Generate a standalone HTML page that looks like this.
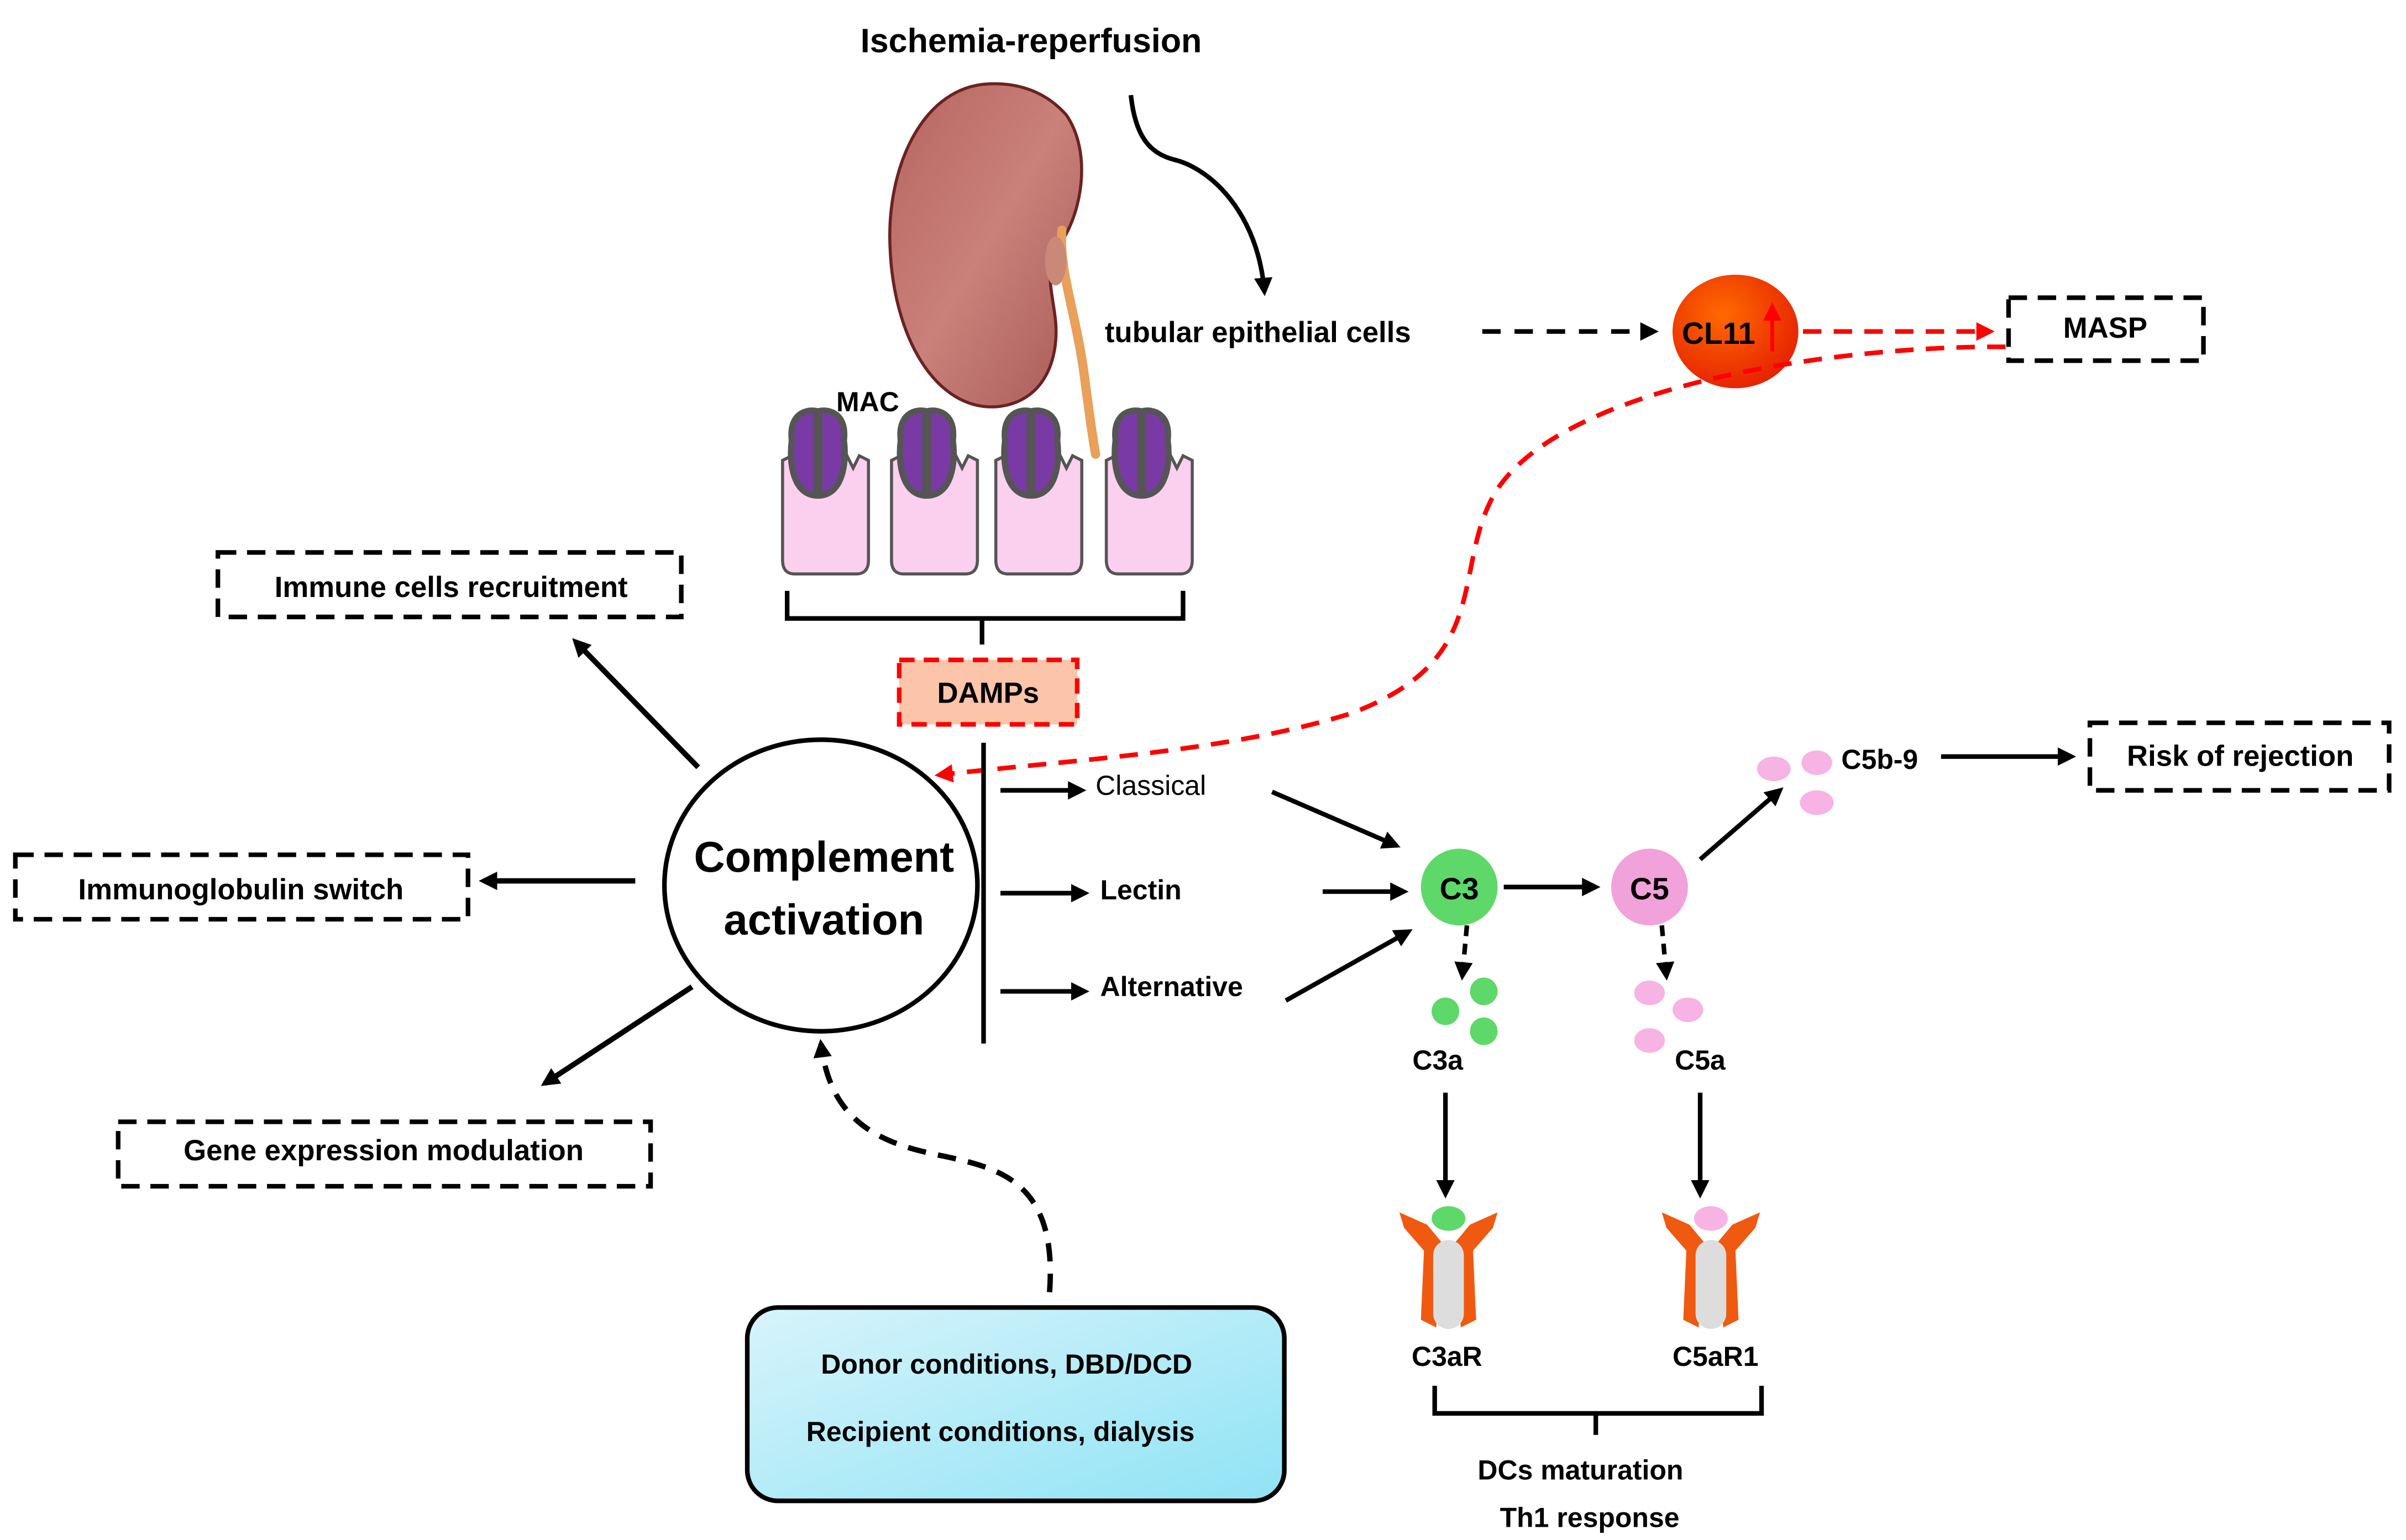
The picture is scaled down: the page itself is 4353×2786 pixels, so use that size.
<!DOCTYPE html>
<html><head><meta charset="utf-8"><style>
html,body{margin:0;padding:0;background:#fff;}
svg{display:block;}
text{font-family:"Liberation Sans",sans-serif;font-weight:bold;fill:#000;}
</style></head><body>
<svg width="4353" height="2786" viewBox="0 0 1568 1003.5" preserveAspectRatio="none" xmlns="http://www.w3.org/2000/svg">
<defs>
<marker id="ahb" markerWidth="12" markerHeight="12" refX="9" refY="6" orient="auto" markerUnits="userSpaceOnUse" viewBox="0 0 12 12"><path d="M0,0 L12,6 L0,12 Z" fill="#000"/></marker>
<marker id="ahr" markerWidth="12" markerHeight="12" refX="9" refY="6" orient="auto" markerUnits="userSpaceOnUse" viewBox="0 0 12 12"><path d="M0,0 L12,6 L0,12 Z" fill="#f00"/></marker>
<radialGradient id="cl" cx="0.4" cy="0.35" r="0.7"><stop offset="0" stop-color="#ff6a00"/><stop offset="1" stop-color="#e52000"/></radialGradient>
<linearGradient id="bl" x1="0" y1="0" x2="1" y2="1"><stop offset="0" stop-color="#d8f4fb"/><stop offset="1" stop-color="#8fe3f5"/></linearGradient>
<linearGradient id="kd" x1="0" y1="0" x2="1" y2="1"><stop offset="0" stop-color="#b7645f"/><stop offset="0.5" stop-color="#c9817a"/><stop offset="1" stop-color="#a85a57"/></linearGradient>
</defs>

<text x="672" y="34" font-size="22" text-anchor="middle">Ischemia-reperfusion</text>

<!-- kidney -->
<path d="M640,55 C600,60 578,110 580,160 C582,220 610,268 650,265 C680,262 690,235 688,210 C686,190 680,175 690,160 C705,140 712,100 695,75 C680,58 660,53 640,55 Z" fill="url(#kd)" stroke="#6b2222" stroke-width="2"/>
<path d="M692,150 C690,175 700,200 706,240 C710,270 712,285 714,296" stroke="#e9a05a" stroke-width="6" fill="none" stroke-linecap="round"/>
<ellipse cx="688" cy="170" rx="7" ry="16" fill="#c98878"/>

<!-- curved arrow -->
<path d="M737,62 C740,90 750,100 765,104 C790,110 820,140 824,190" stroke="#000" stroke-width="3" fill="none" marker-end="url(#ahb)"/>
<text x="720" y="223" font-size="19">tubular epithelial cells</text>
<line x1="966" y1="216" x2="1078" y2="216" stroke="#000" stroke-width="3" stroke-dasharray="12,9" marker-end="url(#ahb)"/>
<ellipse cx="1131" cy="216" rx="41" ry="37" fill="url(#cl)"/>
<text x="1120" y="224" font-size="20" text-anchor="middle">CL11</text>
<line x1="1155" y1="229" x2="1155" y2="200" stroke="#f00" stroke-width="2.5" marker-end="url(#ahr)"/>
<line x1="1175" y1="216" x2="1297" y2="216" stroke="#f00" stroke-width="3" stroke-dasharray="12,8" marker-end="url(#ahr)"/>
<rect x="1309" y="194" width="127" height="41" fill="none" stroke="#000" stroke-width="3" stroke-dasharray="12,7"/>
<text x="1372" y="220" font-size="19" text-anchor="middle">MASP</text>
<path d="M1307,226 C1200,225 1020,250 975,320 C945,370 975,430 880,465 C800,490 700,495 612,505" stroke="#f00" stroke-width="3" fill="none" stroke-dasharray="12,8" marker-end="url(#ahr)"/>

<!-- MAC cells -->
<text x="545" y="268" font-size="18">MAC</text>
<g id="cell">
<path d="M510,300 L510,365 Q510,374 518,374 L558,374 Q566,374 566,365 L566,300 L560,297 L556,305 L552,297 L548,305 L530,305 L525,297 L520,305 L516,297 Z" fill="#fbd0ee" stroke="#555" stroke-width="2"/>
<path d="M516,287 C514,270 525,266 533,268 C541,266 552,270 550,287 C552,302 549,323 533,323 C517,323 514,302 516,287 Z" fill="#7a3aa5" stroke="#555" stroke-width="4"/>
<path d="M533,270 L533,322" stroke="#555" stroke-width="6"/>
</g>
<use href="#cell" x="71"/>
<use href="#cell" x="139"/>
<use href="#cell" x="211"/>
<path d="M513,385 L513,403 L640,403 L640,420 M640,403 L771,403 L771,385" stroke="#000" stroke-width="3" fill="none"/>

<rect x="586" y="430" width="116" height="42" fill="#fcc4a8" stroke="#f00" stroke-width="3" stroke-dasharray="10,6"/>
<text x="644" y="458" font-size="19" text-anchor="middle">DAMPs</text>
<line x1="641" y1="484" x2="641" y2="680" stroke="#000" stroke-width="3"/>

<!-- complement -->
<ellipse cx="535" cy="577" rx="102" ry="95" fill="#fff" stroke="#000" stroke-width="3"/>
<text x="537" y="568" font-size="28" text-anchor="middle">Complement</text>
<text x="537" y="609" font-size="28" text-anchor="middle">activation</text>

<line x1="455" y1="500" x2="375" y2="418" stroke="#000" stroke-width="3.5" marker-end="url(#ahb)"/>
<rect x="142" y="360" width="302" height="42" fill="none" stroke="#000" stroke-width="3" stroke-dasharray="12,7"/>
<text x="294" y="389" font-size="19" text-anchor="middle">Immune cells recruitment</text>
<line x1="414" y1="574" x2="315" y2="574" stroke="#000" stroke-width="3.5" marker-end="url(#ahb)"/>
<rect x="10" y="557" width="295" height="42" fill="none" stroke="#000" stroke-width="3" stroke-dasharray="12,7"/>
<text x="157" y="586" font-size="19" text-anchor="middle">Immunoglobulin switch</text>
<line x1="451" y1="643" x2="355" y2="706" stroke="#000" stroke-width="3.5" marker-end="url(#ahb)"/>
<rect x="77" y="731" width="347" height="42" fill="none" stroke="#000" stroke-width="3" stroke-dasharray="12,7"/>
<text x="250" y="756" font-size="19" text-anchor="middle">Gene expression modulation</text>

<path d="M684,842 C690,760 640,760 600,750 C560,740 540,720 535,680" stroke="#000" stroke-width="3.5" fill="none" stroke-dasharray="12,8" marker-end="url(#ahb)"/>
<rect x="487" y="852" width="350" height="126" rx="20" fill="url(#bl)" stroke="#000" stroke-width="3"/>
<text x="656" y="895" font-size="18" text-anchor="middle">Donor conditions, DBD/DCD</text>
<text x="652" y="939" font-size="18" text-anchor="middle">Recipient conditions, dialysis</text>

<!-- pathways -->
<line x1="652" y1="515" x2="705" y2="515" stroke="#000" stroke-width="3" marker-end="url(#ahb)"/>
<text x="714" y="518" font-size="18" style="font-weight:normal">Classical</text>
<line x1="652" y1="582" x2="707" y2="582" stroke="#000" stroke-width="3" marker-end="url(#ahb)"/>
<text x="717" y="586" font-size="18">Lectin</text>
<line x1="652" y1="646" x2="707" y2="646" stroke="#000" stroke-width="3" marker-end="url(#ahb)"/>
<text x="717" y="649" font-size="18">Alternative</text>
<line x1="829" y1="516" x2="910" y2="551" stroke="#000" stroke-width="3" marker-end="url(#ahb)"/>
<line x1="862" y1="581" x2="915" y2="581" stroke="#000" stroke-width="3" marker-end="url(#ahb)"/>
<line x1="838" y1="652" x2="918" y2="607" stroke="#000" stroke-width="3" marker-end="url(#ahb)"/>

<circle cx="951" cy="578" r="25" fill="#5fd86a"/>
<text x="951" y="586" font-size="20" text-anchor="middle">C3</text>
<line x1="980" y1="578" x2="1040" y2="578" stroke="#000" stroke-width="3" marker-end="url(#ahb)"/>
<circle cx="1075" cy="578" r="25" fill="#f2a2da"/>
<text x="1075" y="586" font-size="20" text-anchor="middle">C5</text>
<line x1="1108" y1="560" x2="1160" y2="515" stroke="#000" stroke-width="3" marker-end="url(#ahb)"/>
<ellipse cx="1156" cy="501" rx="11" ry="8" fill="#f7b3e3"/>
<ellipse cx="1184" cy="497" rx="10" ry="8" fill="#f7b3e3"/>
<ellipse cx="1184" cy="523" rx="11" ry="8" fill="#f7b3e3"/>
<text x="1200" y="501" font-size="18">C5b-9</text>
<line x1="1265" y1="493" x2="1350" y2="493" stroke="#000" stroke-width="3" marker-end="url(#ahb)"/>
<rect x="1362" y="471" width="195" height="44" fill="none" stroke="#000" stroke-width="3" stroke-dasharray="12,7"/>
<text x="1460" y="499" font-size="19" text-anchor="middle">Risk of rejection</text>

<line x1="956" y1="603" x2="953" y2="636" stroke="#000" stroke-width="3" stroke-dasharray="7,5" marker-end="url(#ahb)"/>
<circle cx="967" cy="646" r="9" fill="#5fd86a"/><circle cx="942" cy="659" r="9" fill="#5fd86a"/><circle cx="967" cy="672" r="9" fill="#5fd86a"/>
<text x="937" y="697" font-size="18" text-anchor="middle">C3a</text>
<line x1="1083" y1="603" x2="1086" y2="636" stroke="#000" stroke-width="3" stroke-dasharray="7,5" marker-end="url(#ahb)"/>
<ellipse cx="1075" cy="647" rx="10" ry="8" fill="#f7b3e3"/><ellipse cx="1100" cy="658" rx="10" ry="8" fill="#f7b3e3"/><ellipse cx="1075" cy="678" rx="10" ry="8" fill="#f7b3e3"/>
<text x="1108" y="697" font-size="18" text-anchor="middle">C5a</text>
<line x1="942" y1="712" x2="942" y2="778" stroke="#000" stroke-width="3" marker-end="url(#ahb)"/>
<line x1="1108" y1="712" x2="1108" y2="778" stroke="#000" stroke-width="3" marker-end="url(#ahb)"/>

<g>
<path d="M912,790 L930,798 L940,810 L936,865 L926,860 L928,815 L915,800 Z" fill="#f05a10"/>
<path d="M976,790 L958,798 L948,810 L952,865 L962,860 L960,815 L973,800 Z" fill="#f05a10"/>
<rect x="934" y="808" width="20" height="58" rx="10" fill="#ddd"/>
<ellipse cx="944" cy="794" rx="11" ry="8" fill="#5fd86a"/>
</g>
<g transform="translate(171,0)">
<path d="M912,790 L930,798 L940,810 L936,865 L926,860 L928,815 L915,800 Z" fill="#f05a10"/>
<path d="M976,790 L958,798 L948,810 L952,865 L962,860 L960,815 L973,800 Z" fill="#f05a10"/>
<rect x="934" y="808" width="20" height="58" rx="10" fill="#ddd"/>
<ellipse cx="944" cy="794" rx="11" ry="8" fill="#f7b3e3"/>
</g>
<text x="943" y="890" font-size="18" text-anchor="middle">C3aR</text>
<text x="1118" y="890" font-size="18" text-anchor="middle">C5aR1</text>
<path d="M935,903 L935,921 L1040,921 L1040,935 M1040,921 L1148,921 L1148,903" stroke="#000" stroke-width="3" fill="none"/>
<text x="1030" y="964" font-size="18" text-anchor="middle">DCs maturation</text>
<text x="1036" y="995" font-size="18" text-anchor="middle">Th1 response</text>
</svg>
</body></html>
